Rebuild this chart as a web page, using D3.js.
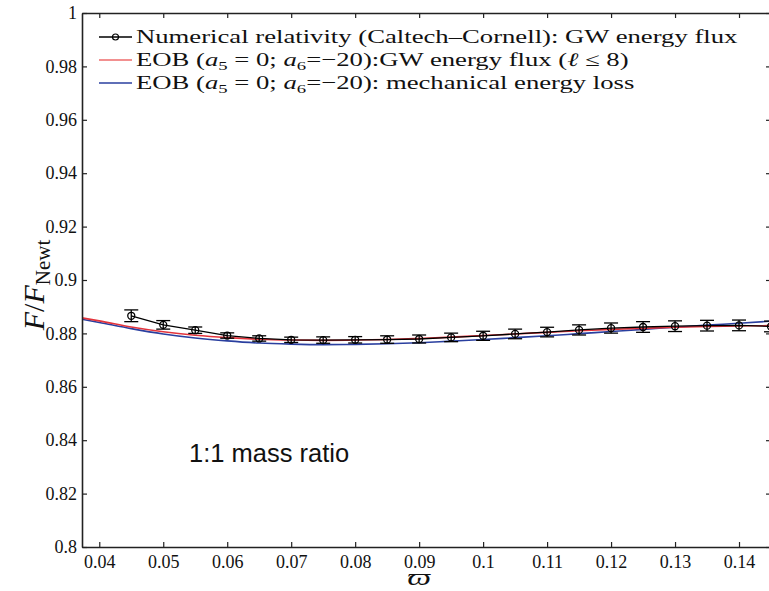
<!DOCTYPE html>
<html><head><meta charset="utf-8">
<script src="https://cdn.jsdelivr.net/npm/d3@7"></script>
<style>body{margin:0;background:#fff}svg{display:block}</style>
</head><body><svg id="c" width="769" height="591"></svg>
<script>
// ---- data ----
const xTicks = [0.04,0.05,0.06,0.07,0.08,0.09,0.1,0.11,0.12,0.13,0.14];
const xTickLabels = ["0.04","0.05","0.06","0.07","0.08","0.09","0.1","0.11","0.12","0.13","0.14"];
const yTicks = [0.8,0.82,0.84,0.86,0.88,0.9,0.92,0.94,0.96,0.98,1];
const yTickLabels = ["0.8","0.82","0.84","0.86","0.88","0.9","0.92","0.94","0.96","0.98","1"];

const nrX   = [0.045,0.05,0.055,0.06,0.065,0.07,0.075,0.08,0.085,0.09,0.095,0.1,0.105,0.11,0.115,0.12,0.125,0.13,0.135,0.14,0.145];
const nrY   = [0.8866,0.8832,0.8812,0.8792,0.8781,0.8776,0.8775,0.8776,0.8777,0.8779,0.8785,0.8791,0.8798,0.8805,0.8813,0.8820,0.8824,0.8827,0.8829,0.8830,0.8826];
const nrErr = [0.0022,0.0016,0.0012,0.0010,0.0010,0.0010,0.0012,0.0012,0.0014,0.0015,0.0016,0.0017,0.0018,0.0018,0.0019,0.0019,0.0020,0.0020,0.0020,0.0020,0.0020];

const eobX    = [0.0373,0.04,0.045,0.05,0.055,0.06,0.065,0.07,0.075,0.08,0.085,0.09,0.095,0.1,0.105,0.11,0.115,0.12,0.125,0.13,0.135,0.14,0.145];
const eobFlux = [0.8858,0.8847,0.8824,0.8806,0.8793,0.8784,0.8778,0.8775,0.8774,0.8775,0.8777,0.8781,0.8786,0.8792,0.8798,0.8804,0.8810,0.8815,0.8819,0.8823,0.8826,0.8828,0.8829];
const eobMech = [0.8853,0.8841,0.8818,0.8798,0.8783,0.8772,0.8764,0.8760,0.8758,0.8759,0.8761,0.8765,0.8771,0.8777,0.8784,0.8791,0.8799,0.8807,0.8815,0.8823,0.8831,0.8838,0.8846];

const legendLabel1 = "Numerical  relativity (Caltech\u2013Cornell): GW energy flux";
const annotation = "1:1 mass ratio";

// ---- layout ----
const L = 82, R = 771, T = 13, B = 547;
const svg = d3.select("#c");
const x = d3.scaleLinear().domain([0.0373, 0.145]).range([L, R]);
const y = d3.scaleLinear().domain([0.8, 1]).range([B, T]);
const serif = "'Liberation Serif','Times New Roman',serif";

svg.append("defs").append("clipPath").attr("id","clip")
  .append("rect").attr("x",L).attr("y",T).attr("width",R-L).attr("height",B-T);

const plot = svg.append("g").attr("clip-path","url(#clip)");

// curves
const line = d3.line().curve(d3.curveMonotoneX);
const mkPts = (xs, ys) => xs.map((v,i)=>[x(v), y(ys[i])]);
plot.append("path").attr("d", line(mkPts(eobX, eobMech)))
  .attr("fill","none").attr("stroke","#2a3f9f").attr("stroke-width",1.6);
plot.append("path").attr("d", line(mkPts(eobX, eobFlux)))
  .attr("fill","none").attr("stroke","#e3343c").attr("stroke-width",1.6);

// NR data
plot.append("path").attr("d", d3.line()(mkPts(nrX, nrY)))
  .attr("fill","none").attr("stroke","#000").attr("stroke-width",1.3);
const eb = plot.append("g").attr("stroke","#000").attr("stroke-width",1.3).attr("fill","none");
nrX.forEach((v,i)=>{
  const cx = x(v), y1 = y(nrY[i]+nrErr[i]), y2 = y(nrY[i]-nrErr[i]);
  eb.append("line").attr("x1",cx).attr("x2",cx).attr("y1",y1).attr("y2",y2);
  eb.append("line").attr("x1",cx-7).attr("x2",cx+7).attr("y1",y1).attr("y2",y1);
  eb.append("line").attr("x1",cx-7).attr("x2",cx+7).attr("y1",y2).attr("y2",y2);
  eb.append("circle").attr("cx",cx).attr("cy",y(nrY[i])).attr("r",3.5);
});

// axes
const fmtX = (d)=>xTickLabels[xTicks.indexOf(d)];
const fmtY = (d)=>yTickLabels[yTicks.indexOf(d)];
const gx = svg.append("g").attr("transform",`translate(0,${B})`)
  .call(d3.axisBottom(x).tickValues(xTicks).tickFormat(fmtX).tickSize(-5).tickSizeOuter(0).tickPadding(8));
const gxt = svg.append("g").attr("transform",`translate(0,${T})`)
  .call(d3.axisTop(x).tickValues(xTicks).tickFormat("").tickSize(-5).tickSizeOuter(0));
const gy = svg.append("g").attr("transform",`translate(${L},0)`)
  .call(d3.axisLeft(y).tickValues(yTicks).tickFormat(fmtY).tickSize(-5).tickSizeOuter(0).tickPadding(5));
const gyr = svg.append("g").attr("transform",`translate(${R},0)`)
  .call(d3.axisRight(y).tickValues(yTicks).tickFormat("").tickSize(-5).tickSizeOuter(0));
[gx,gxt,gy,gyr].forEach(g=>{
  g.attr("font-family", null).attr("font-size", null);
  g.selectAll(".domain").attr("stroke","#222").attr("stroke-width",1.6);
  g.selectAll(".tick line").attr("stroke","#222").attr("stroke-width",1.2);
  g.selectAll("text").style("font-family",serif).style("font-size","18px").attr("fill","#111");
});

// axis titles
const yl = svg.append("text").attr("transform","translate(44,285) rotate(-90)")
  .attr("text-anchor","middle").style("font-family",serif).style("font-size","30px").attr("fill","#111");
yl.append("tspan").style("font-style","italic").text("F");
yl.append("tspan").text("/");
yl.append("tspan").style("font-style","italic").text("F");
yl.append("tspan").style("font-size","21px").attr("dy",6).text("Newt");

const xc = x(0.09);
svg.append("text").attr("transform",`translate(${xc},585) scale(1.4,1)`).attr("text-anchor","middle")
  .style("font-family",serif).style("font-style","italic").style("font-size","24px").attr("fill","#111").text("\u03D6");

// annotation
svg.append("text").attr("x",189).attr("y",462).style("font-family","'Liberation Sans',Arial,sans-serif")
  .style("font-size","25.5px").attr("fill","#111").text(annotation);

// legend
const lg = svg.append("g");
const rows = [37, 60, 83];
const lx1 = 99, lx2 = 132, tx = 136;
lg.append("line").attr("x1",lx1).attr("x2",lx2).attr("y1",rows[0]).attr("y2",rows[0]).attr("stroke","#000").attr("stroke-width",1.3);
lg.append("circle").attr("cx",(lx1+lx2)/2).attr("cy",rows[0]).attr("r",3).attr("fill","none").attr("stroke","#000").attr("stroke-width",1.2);
lg.append("line").attr("x1",lx1).attr("x2",lx2).attr("y1",rows[1]).attr("y2",rows[1]).attr("stroke","#ee6b6b").attr("stroke-width",1.3);
lg.append("line").attr("x1",lx1).attr("x2",lx2).attr("y1",rows[2]).attr("y2",rows[2]).attr("stroke","#2a3f9f").attr("stroke-width",1.3);

const fs = 19;
const tg = lg.append("g");
const t1 = tg.append("text").attr("x",tx).attr("y",rows[0]+6).style("font-family",serif).style("font-size",fs+"px").attr("fill","#111")
  .text(legendLabel1);
function eobLabel(yy, tail){
  const t = tg.append("text").attr("x",tx).attr("y",yy).style("font-family",serif).style("font-size",fs+"px").attr("fill","#111");
  t.append("tspan").text("EOB (");
  t.append("tspan").style("font-style","italic").text("a");
  t.append("tspan").style("font-size",(fs*0.7)+"px").attr("dy",4).text("5");
  t.append("tspan").attr("dy",-4).text(" = 0; ");
  t.append("tspan").style("font-style","italic").text("a");
  t.append("tspan").style("font-size",(fs*0.7)+"px").attr("dy",4).text("6");
  t.append("tspan").attr("dy",-4).text("=\u221220):");
  tail(t);
  return t;
}
eobLabel(rows[1]+6, t=>{
  t.append("tspan").text("GW energy flux (");
  t.append("tspan").style("font-style","italic").text("\u2113");
  t.append("tspan").text(" \u2264 8)");
});
eobLabel(rows[2]+6, t=>{ t.append("tspan").text(" mechanical energy loss"); });

// horizontal stretch so first row spans the reference width
const w = t1.node().getComputedTextLength();
const k = (738 - tx) / w;
tg.attr("transform", `translate(${tx},0) scale(${k},1) translate(${-tx},0)`);
</script></body></html>
